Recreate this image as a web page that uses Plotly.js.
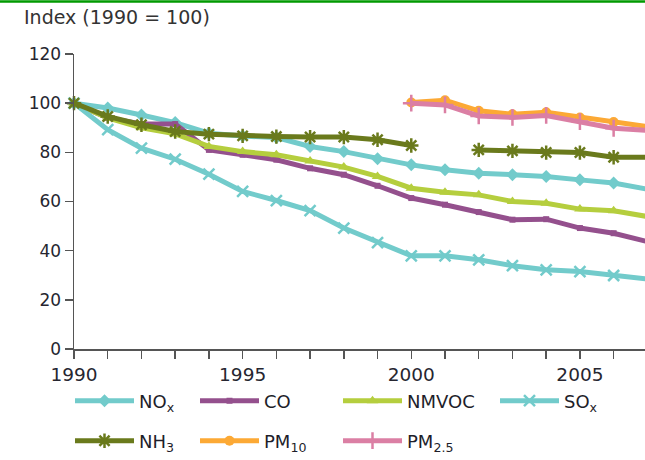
<!DOCTYPE html>
<html>
<head>
<meta charset="utf-8">
<script src="https://cdn.plot.ly/plotly-3.0.1.min.js"></script>
<style>html,body{margin:0;padding:0;background:#fff;}#chart{width:645px;height:460px;}</style>
</head>
<body>
<div id="chart"></div>
<script>
const years = [1990,1991,1992,1993,1994,1995,1996,1997,1998,1999,2000,2001,2002,2003,2004,2005,2006,2007];
const nox   = [100, 98, 95.2, 92.1, 87.8, 86.6, 86, 82.4, 80.3, 77.4, 74.9, 72.9, 71.5, 70.9, 70.2, 68.8, 67.5, 65];
const co    = [100, 94, 91.5, 91.5, 81, 79, 77, 73.5, 70.9, 66.4, 61.4, 58.7, 55.7, 52.6, 52.8, 49.2, 47.1, 43.7];
const nmvoc = [100, 94, 90, 87.5, 82.4, 80.3, 79, 76.5, 74, 70.2, 65.4, 63.8, 62.7, 60, 59.3, 56.9, 56.2, 53.9];
const sox   = [100, 89.2, 81.7, 77.2, 71.1, 64.1, 60.4, 56.3, 49.2, 43.3, 37.9, 37.9, 36.3, 33.9, 32.2, 31.5, 29.9, 28.5];
const nh3   = [100, 94.6, 91.2, 88.5, 87.4, 86.7, 86.4, 86.2, 86.2, 85.1, 82.8, null, 81, 80.6, 79.9, 79.9, 78, 78];
const pm10  = [null,null,null,null,null,null,null,null,null,null, 100.3, 101.2, 96.9, 95.5, 96.3, 94.2, 92.3, 90.5];
const pm25  = [null,null,null,null,null,null,null,null,null,null, 100, 99.3, 94.8, 94.2, 95, 92.5, 89.8, 88.9];

const seriesNames = ['NO<sub>x</sub>','CO','NMVOC','SO<sub>x</sub>','NH<sub>3</sub>','PM<sub>10</sub>','PM<sub>2.5</sub>'];
const seriesData = [nox, co, nmvoc, sox, nh3, pm10, pm25];
const colors = ['#72CBCB','#94508D','#B5CE3E','#72CBCB','#6A7A1C','#FCA935','#DB7FA4'];
const symbols = ['diamond','square','triangle-up','x-thin-open','asterisk-open','circle','cross-thin-open'];
const sizes = [10, 6, 10, 11, 12, 10, 12];

// legend key placement (pixel column / row of each entry)
const legendCols = [70, 195, 338, 495, 70, 195, 338];
const legendRows = [401, 401, 401, 401, 441, 441, 441];

const fontFamily = 'DejaVu Sans, Verdana, sans-serif';

const traces = seriesData.map((vals, i) => ({
  type: 'scatter',
  mode: 'lines+markers',
  x: years,
  y: vals,
  name: seriesNames[i],
  legend: i === 0 ? 'legend' : 'legend' + (i + 1),
  connectgaps: false,
  cliponaxis: false,
  line: {color: colors[i], width: 5},
  marker: {symbol: symbols[i], size: sizes[i], color: colors[i],
           line: {color: colors[i], width: (symbols[i].indexOf('open') >= 0 ? 2.5 : 0)}},
  hoverinfo: 'skip'
}));

const layout = {
  width: 645, height: 460,
  margin: {l: 74, r: 0, t: 54, b: 111},
  paper_bgcolor: '#ffffff', plot_bgcolor: '#ffffff',
  font: {family: fontFamily, size: 17, color: '#262630'},
  showlegend: true,
  title: {text: 'Index (1990 = 100)', x: 24/645, xref: 'container', xanchor: 'left',
          y: 1 - 17/460, yref: 'container', yanchor: 'middle',
          font: {family: fontFamily, size: 19, color: '#333333'}},
  xaxis: {
    range: [1990, 2006.93], tickmode: 'linear', tick0: 1990, dtick: 5,
    ticks: 'outside', ticklen: 8, tickwidth: 1.5, tickcolor: '#555',
    minor: {dtick: 1, tick0: 1990, ticks: 'outside', ticklen: 8, tickwidth: 1.5, tickcolor: '#555'},
    showline: true, linecolor: '#555', linewidth: 1.5, showgrid: false, zeroline: false,
    tickfont: {family: fontFamily, size: 18.5, color: '#262630'}, fixedrange: true
  },
  yaxis: {
    range: [0, 120], tickmode: 'linear', tick0: 0, dtick: 20,
    ticks: 'outside', ticklen: 8, tickwidth: 1.5, tickcolor: '#555',
    showline: true, linecolor: '#555', linewidth: 1.5, showgrid: false, zeroline: false,
    tickfont: {family: fontFamily, size: 17, color: '#262630'}, fixedrange: true
  },
  shapes: [
    {type: 'line', xref: 'paper', yref: 'paper', x0: -0.2, x1: 1.05, y0: 1.178, y1: 1.178,
     line: {color: '#009a00', width: 2.5}}
  ]
};

seriesData.forEach((_, i) => {
  const key = i === 0 ? 'legend' : 'legend' + (i + 1);
  layout[key] = {
    orientation: 'h', xref: 'container', yref: 'container',
    x: legendCols[i] / 645, xanchor: 'left',
    y: 1 - legendRows[i] / 460, yanchor: 'middle',
    itemwidth: 59,
    font: {family: fontFamily, size: 18, color: '#1e1e2a'},
    bgcolor: 'rgba(0,0,0,0)', borderwidth: 0
  };
});

Plotly.newPlot('chart', traces, layout, {displayModeBar: false, staticPlot: true});
</script>
</body>
</html>
